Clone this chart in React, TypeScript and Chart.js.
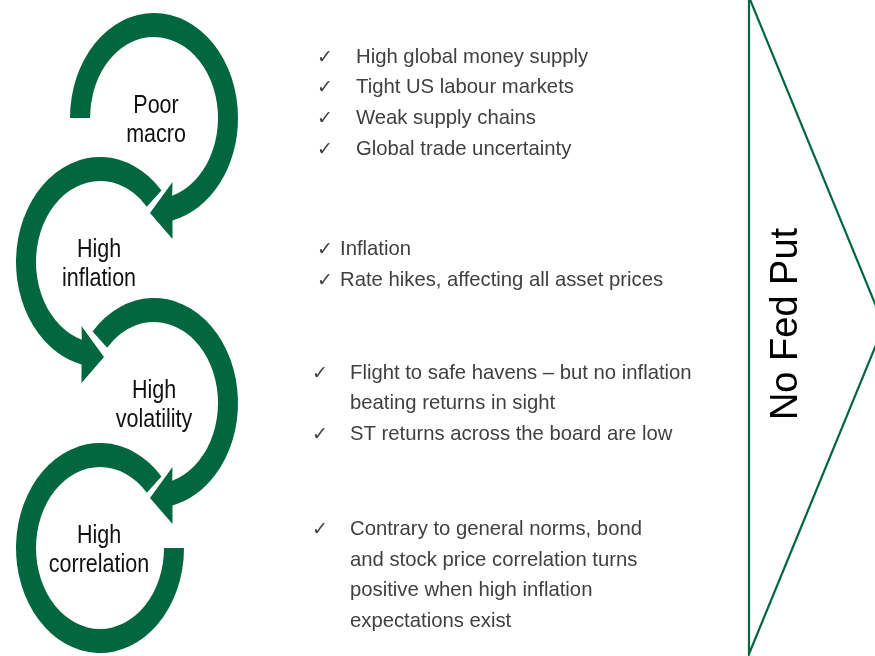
import React, { useEffect, useRef } from "react";
import { Chart, registerables } from "chart.js";

Chart.register(...registerables);

// ---- content ----
const STAGES: string[][] = [
  ["Poor", "macro"],
  ["High", "inflation"],
  ["High", "volatility"],
  ["High", "correlation"],
];
const BULLETS_MACRO = [
  "High global money supply",
  "Tight US labour markets",
  "Weak supply chains",
  "Global trade uncertainty",
];
const BULLETS_INFLATION = ["Inflation", "Rate hikes, affecting all asset prices"];
const BULLETS_VOLATILITY = [
  ["Flight to safe havens \u2013 but no inflation", "beating returns in sight"],
  ["ST returns across the board are low"],
];
const BULLETS_CORRELATION = [
  [
    "Contrary to general norms, bond",
    "and stock price correlation turns",
    "positive when high inflation",
    "expectations exist",
  ],
];
const FLOW_LABEL = "No Fed Put";

const GREEN = "#02663F";
const TEXT_GRAY = "#404040";
const deg = (d: number) => (d * Math.PI) / 180;

const diagramPlugin = {
  id: "cycleDiagram",
  afterDraw(chart: any) {
    const ctx: CanvasRenderingContext2D = chart.ctx;
    const xs = chart.scales.x;
    const ys = chart.scales.y;
    const X = (v: number) => xs.getPixelForValue(v);
    const Y = (v: number) => ys.getPixelForValue(v);
    const kx = X(1) - X(0);
    const ky = Y(1) - Y(0);

    // ring geometry
    const RXO = 84, RYO = 105, RXI = 64, RYI = 81;

    const ring = (cx: number, cy: number, t0: number, cw: boolean, head: boolean) => {
      const px = X(cx), py = Y(cy);
      const s = cw ? 1 : -1;
      ctx.beginPath();
      if (head) {
        const tOut = cw ? deg(437.3) : deg(102.7);
        const tIn = cw ? deg(433.5) : deg(106.5);
        ctx.ellipse(px, py, RXO * kx, RYO * ky, 0, t0, tOut, !cw);
        ctx.lineTo(px + s * 18.5 * kx, py + 121 * ky);
        ctx.lineTo(px - s * 4 * kx, py + 95 * ky);
        ctx.lineTo(px + s * 18.5 * kx, py + 64 * ky);
        ctx.ellipse(px, py, RXI * kx, RYI * ky, 0, tIn, t0, cw);
      } else {
        ctx.ellipse(px, py, RXO * kx, RYO * ky, 0, t0, 0, true);
        ctx.ellipse(px, py, RXI * kx, RYI * ky, 0, 0, t0, false);
      }
      ctx.closePath();
      ctx.fillStyle = GREEN;
      ctx.fill();
    };

    ctx.save();
    ring(100, 548, deg(317), false, false);
    ring(154, 403, deg(223), true, true);
    ring(100, 262, deg(317), false, true);
    ring(154, 118, deg(180), true, true);

    // stage labels (narrow sans)
    const centers = [
      [156, 118],
      [99, 262],
      [154, 403],
      [99, 548],
    ];
    ctx.fillStyle = "#111111";
    ctx.font = "25px 'Liberation Sans', Arial, sans-serif";
    ctx.textAlign = "center";
    ctx.textBaseline = "alphabetic";
    STAGES.forEach((lines, i) => {
      const [cx, cy] = centers[i];
      lines.forEach((ln, j) => {
        ctx.save();
        ctx.translate(X(cx), Y(cy - 5 + j * 29));
        ctx.scale(0.86, 1);
        ctx.fillText(ln, 0, 0);
        ctx.restore();
      });
    });

    // bullets
    const check = (x: number, y: number) => {
      ctx.save();
      ctx.font = "19px 'DejaVu Sans', sans-serif";
      ctx.fillStyle = TEXT_GRAY;
      ctx.textAlign = "left";
      ctx.fillText("\u2713", X(x), Y(y));
      ctx.restore();
    };
    ctx.font = "20.3px 'Liberation Sans', Arial, sans-serif";
    ctx.fillStyle = TEXT_GRAY;
    ctx.textAlign = "left";

    BULLETS_MACRO.forEach((t, i) => {
      const y = 62.5 + i * 30.7;
      check(317, y);
      ctx.fillText(t, X(356), Y(y));
    });
    BULLETS_INFLATION.forEach((t, i) => {
      const y = 255 + i * 30.5;
      check(317, y);
      ctx.fillText(t, X(340), Y(y));
    });
    let yy = 379;
    BULLETS_VOLATILITY.forEach((item) => {
      check(312, yy);
      item.forEach((t) => {
        ctx.fillText(t, X(350), Y(yy));
        yy += 30.3;
      });
    });
    yy = 535;
    BULLETS_CORRELATION.forEach((item) => {
      check(312, yy);
      item.forEach((t) => {
        ctx.fillText(t, X(350), Y(yy));
        yy += 30.5;
      });
    });

    // triangle
    ctx.beginPath();
    ctx.moveTo(X(749), Y(-3));
    ctx.lineTo(X(884), Y(325.5));
    ctx.lineTo(X(749), Y(654));
    ctx.closePath();
    ctx.strokeStyle = GREEN;
    ctx.lineWidth = 2.2;
    ctx.stroke();

    ctx.save();
    ctx.translate(X(797), Y(324));
    ctx.rotate(-Math.PI / 2);
    ctx.font = "38px 'Liberation Sans', Arial, sans-serif";
    ctx.fillStyle = "#000000";
    ctx.textAlign = "center";
    ctx.textBaseline = "alphabetic";
    ctx.fillText(FLOW_LABEL, 0, 0);
    ctx.restore();

    ctx.restore();
  },
};

export default function App() {
  const ref = useRef<HTMLCanvasElement | null>(null);
  useEffect(() => {
    if (!ref.current) return;
    const chart = new Chart(ref.current, {
      type: "scatter",
      data: { datasets: [] },
      options: {
        animation: false,
        responsive: true,
        maintainAspectRatio: false,
        layout: { padding: 0 },
        plugins: { legend: { display: false }, tooltip: { enabled: false } },
        scales: {
          x: { type: "linear", min: 0, max: 875, display: false },
          y: { type: "linear", min: 0, max: 656, reverse: true, display: false },
        },
      },
      plugins: [diagramPlugin],
    } as any);
    return () => chart.destroy();
  }, []);
  return (
    <div style={{ position: "fixed", left: 0, top: 0, width: 875, height: 656, background: "#fff" }}>
      <canvas ref={ref} />
    </div>
  );
}
